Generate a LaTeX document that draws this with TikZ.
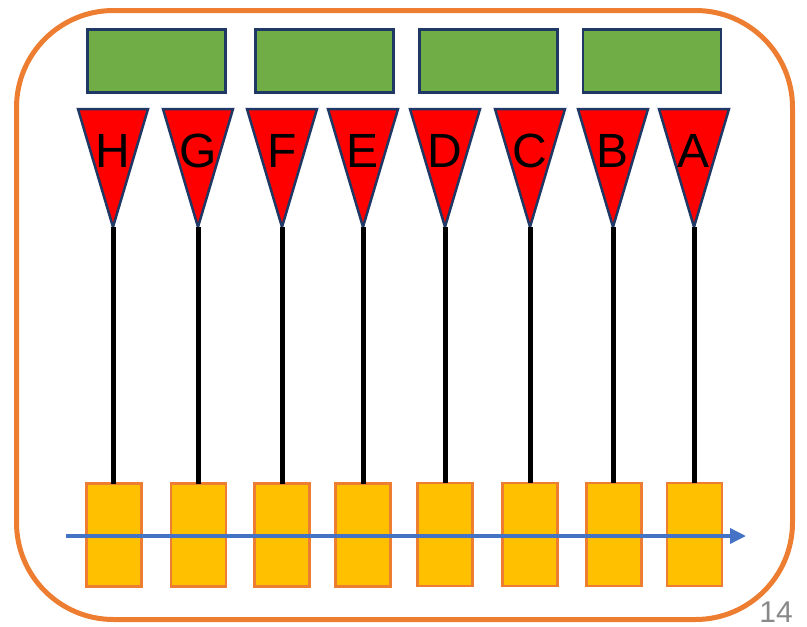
\documentclass[tikz,border=0pt]{standalone}
\usepackage{fontspec}
\setmainfont{Liberation Sans}
\usetikzlibrary{arrows.meta}
\definecolor{frameorange}{HTML}{ED7D31}
\definecolor{boxgreen}{HTML}{70AD47}
\definecolor{navy}{HTML}{203864}
\definecolor{flagred}{HTML}{FF0000}
\definecolor{boxyellow}{HTML}{FFC000}
\definecolor{arrowblue}{HTML}{4472C4}
\definecolor{numgray}{HTML}{898989}
\tikzset{
  greenbox/.style={draw=navy, fill=boxgreen, line width=2.5pt, minimum width=138pt, minimum height=63pt, inner sep=0pt, outer sep=0pt},
  flag/.style={draw=navy, fill=flagred, line width=2.5pt, line join=miter},
  flaglabel/.style={font=\fontsize{48}{48}\selectfont, inner sep=0pt, text=black},
  yellowbox/.style={draw=frameorange, fill=boxyellow, line width=2.5pt, minimum width=55pt, minimum height=103pt, inner sep=0pt, outer sep=0pt},
  wire/.style={line width=5pt, black},
  flow/.style={draw=arrowblue, line width=3.5pt, -{Triangle[length=16pt,width=15pt]}},
}
\begin{document}
\begin{tikzpicture}[x=1pt,y=-1pt]
\useasboundingbox (0,0) rectangle (807,627);
\draw[frameorange, line width=5pt, rounded corners=97pt] (16.5,10.5) rectangle (792.5,619.5);
% green boxes
\node[greenbox] (g1) at (156.5,61) {};
\node[greenbox] (g2) at (324.5,61) {};
\node[greenbox] (g3) at (488.5,61) {};
\node[greenbox] (g4) at (652,61) {};
% flags
\foreach \x/\l in {113/H,198/G,282/F,363/E,445/D,530/C,613/B,694/A}{
  \draw[flag] (\x-35,109) -- (\x+35,109) -- (\x,227) -- cycle;
  \coordinate (t\l) at (\x,227);
  \node[flaglabel] (l\l) at (\x,151) {\l};
}
% yellow boxes
\node[yellowbox] (yH) at (114,535) {};
\node[yellowbox] (yG) at (198.5,535) {};
\node[yellowbox] (yF) at (282,535) {};
\node[yellowbox] (yE) at (363,535) {};
\node[yellowbox] (yD) at (445,534.5) {};
\node[yellowbox] (yC) at (530,534.5) {};
\node[yellowbox] (yB) at (614,534.5) {};
\node[yellowbox] (yA) at (694.5,534.5) {};
\foreach \l in {H,G,F,E,D,C,B,A}{
  \draw[wire] (t\l) -- (t\l |- y\l.north);
}
\coordinate (fs) at (66,536);
\coordinate (fe) at (746,536);
\draw[flow] (fs) -- (fe);
\node[anchor=base east, text=numgray, font=\fontsize{30}{30}\selectfont, inner sep=0pt] (pg) at (793,622) {14};
\end{tikzpicture}
\end{document}
